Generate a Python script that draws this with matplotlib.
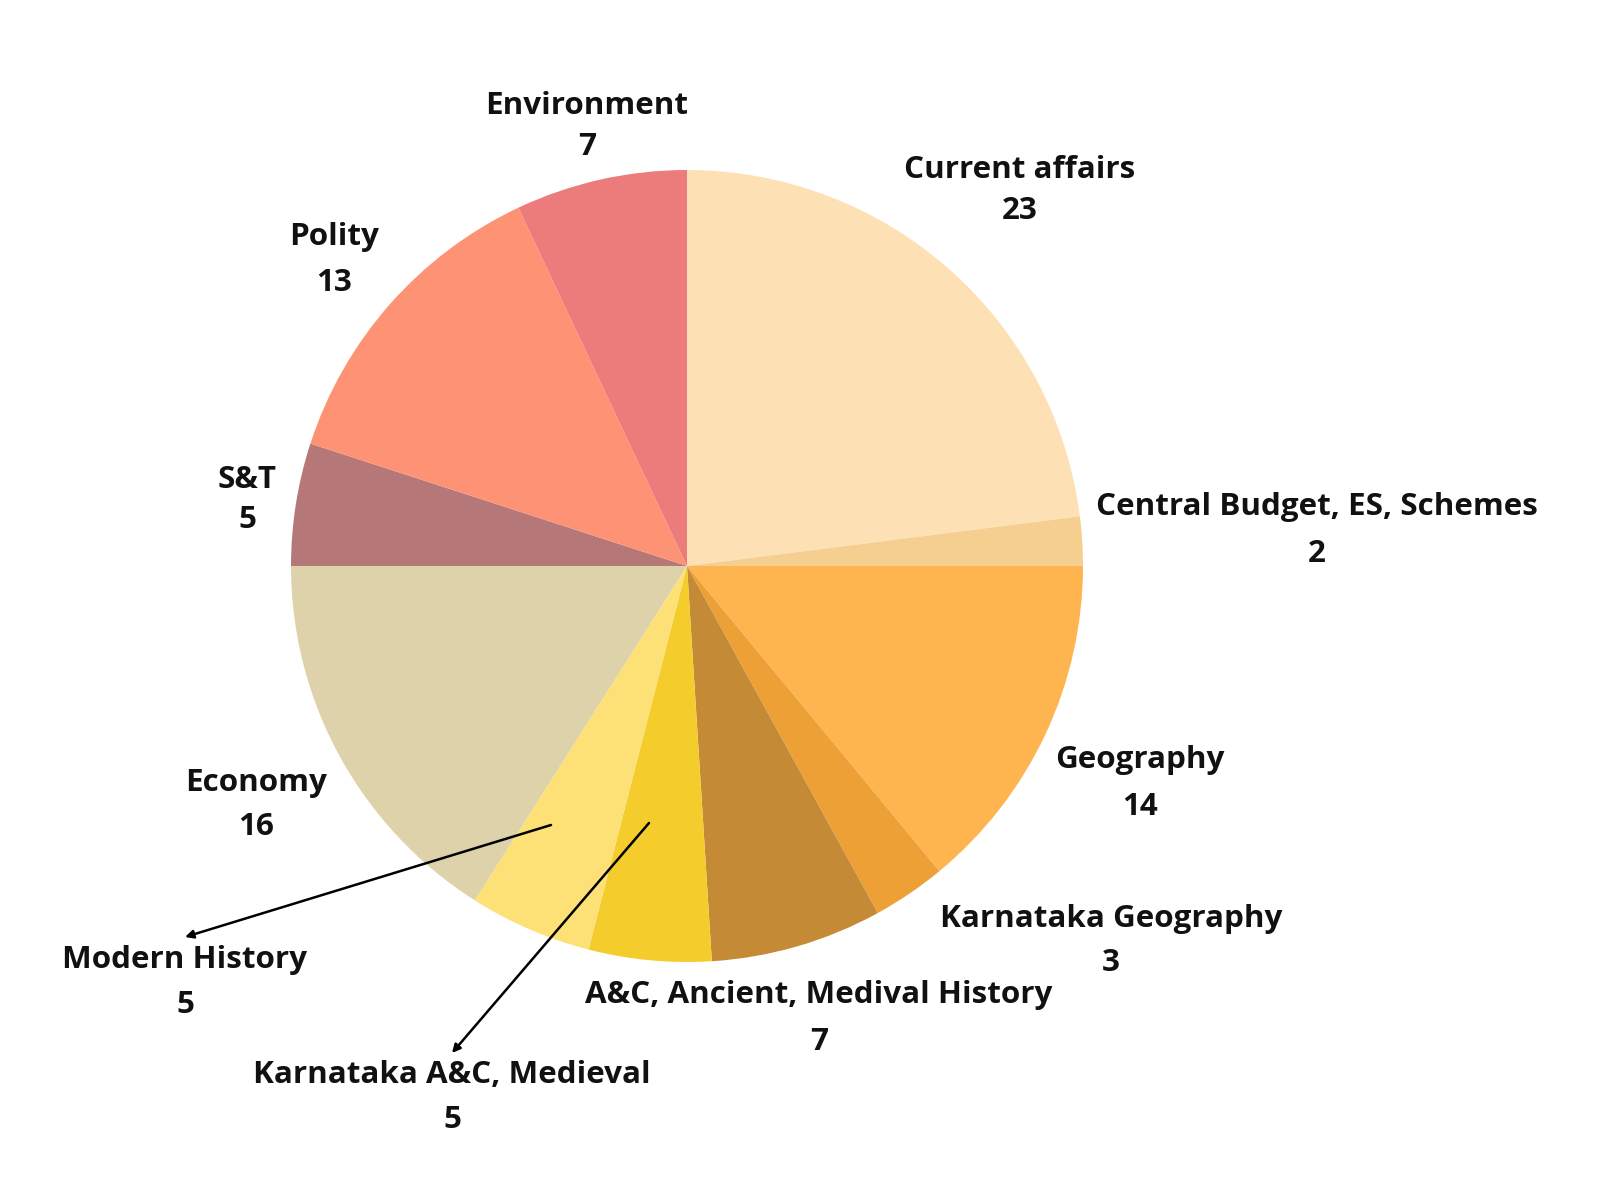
import matplotlib
matplotlib.use("Agg")
import matplotlib.pyplot as plt

# data
topics = [
    "Current affairs",
    "Central Budget, ES, Schemes",
    "Geography",
    "Karnataka Geography",
    "A&C, Ancient, Medival History",
    "Karnataka A&C, Medieval",
    "Modern History",
    "Economy",
    "S&T",
    "Polity",
    "Environment",
]
counts = [23, 2, 14, 3, 7, 5, 5, 16, 5, 13, 7]
colors = [
    "#FDE1B4", "#F5CF90", "#FEB54F", "#ECA035", "#C48A35", "#F4CD2D",
    "#FDE177", "#DDD2AA", "#B57777", "#FE9274", "#EC7B7B",
]

W, H = 1600, 1202
# label anchor (x, y of name line, y of number line) in pixel coords
label_pos = {
    "Current affairs": (1020, 170, 211),
    "Central Budget, ES, Schemes": (1317, 507, 554),
    "Geography": (1140, 760, 807),
    "Karnataka Geography": (1111, 919, 963),
    "A&C, Ancient, Medival History": (819, 995, 1042),
    "Karnataka A&C, Medieval": (452, 1075, 1120),
    "Modern History": (185, 960, 1005),
    "Economy": (256, 783, 827),
    "S&T": (247, 480, 520),
    "Polity": (334, 237, 283),
    "Environment": (587, 106, 147),
}
arrows = {
    "Modern History": ((551, 825), (185, 937)),
    "Karnataka A&C, Medieval": ((649, 823), (452, 1053)),
}

plt.rcParams["font.family"] = ["Open Sans", "DejaVu Sans"]

fig = plt.figure(figsize=(16, 12.02), dpi=100)
ax = fig.add_axes([0, 0, 1, 1])
ax.pie(
    counts,
    colors=colors,
    startangle=90,
    counterclock=False,
    center=(687, H - 566),
    radius=396,
    wedgeprops=dict(linewidth=0),
)
ax.set_xlim(0, W)
ax.set_ylim(0, H)
ax.set_aspect("equal")
ax.axis("off")

for name, n in zip(topics, counts):
    x, y1, y2 = label_pos[name]
    ax.text(x, H - y1, name, ha="center", va="center",
            fontsize=22.6, fontweight="bold", color="#111111")
    ax.text(x, H - y2, str(n), ha="center", va="center",
            fontsize=22.6, fontweight="bold", color="#111111")

for name, (start, end) in arrows.items():
    ax.annotate(
        "",
        xy=(end[0], H - end[1]),
        xytext=(start[0], H - start[1]),
        arrowprops=dict(arrowstyle="-|>", color="black", lw=1.8,
                        mutation_scale=12, shrinkA=0, shrinkB=0),
    )

fig.savefig("out.png", dpi=100, facecolor="white")
